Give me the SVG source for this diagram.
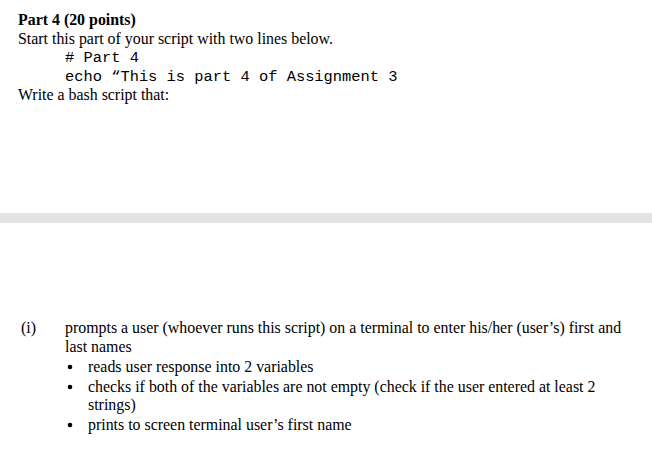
<svg xmlns="http://www.w3.org/2000/svg" width="652" height="457" viewBox="0 0 652 457">
<style>
.t{font-family:"Liberation Serif",serif;font-size:15.9px;fill:#000}
.m{font-family:"Liberation Mono",monospace;font-size:15.4px;fill:#000;font-weight:300}
</style>
<rect width="652" height="457" fill="#fff"/>
<text class="t" x="18" y="25" font-weight="bold">Part 4 (20 points)</text>
<text class="t" x="18" y="44">Start this part of your script with two lines below.</text>
<text class="m" x="65" y="62"># Part 4</text>
<text class="m" x="65" y="81">echo “This is part 4 of Assignment 3</text>
<text class="t" x="18" y="100">Write a bash script that:</text>
<rect x="0" y="213" width="652" height="10" fill="#e3e3e3"/>
<text class="t" x="21" y="333">(i)</text>
<text class="t" x="65" y="333">prompts a user (whoever runs this script) on a terminal to enter his/her (user’s) first and</text>
<text class="t" x="65" y="352">last names</text>
<g fill="#000"><circle cx="70" cy="367" r="2.3"/><circle cx="70" cy="387" r="2.3"/><circle cx="70" cy="425" r="2.3"/></g>
<text class="t" x="88" y="372">reads user response into 2 variables</text>
<text class="t" x="88" y="392">checks if both of the variables are not empty (check if the user entered at least 2</text>
<text class="t" x="88" y="410">strings)</text>
<text class="t" x="88" y="430">prints to screen terminal user’s first name</text>
</svg>
